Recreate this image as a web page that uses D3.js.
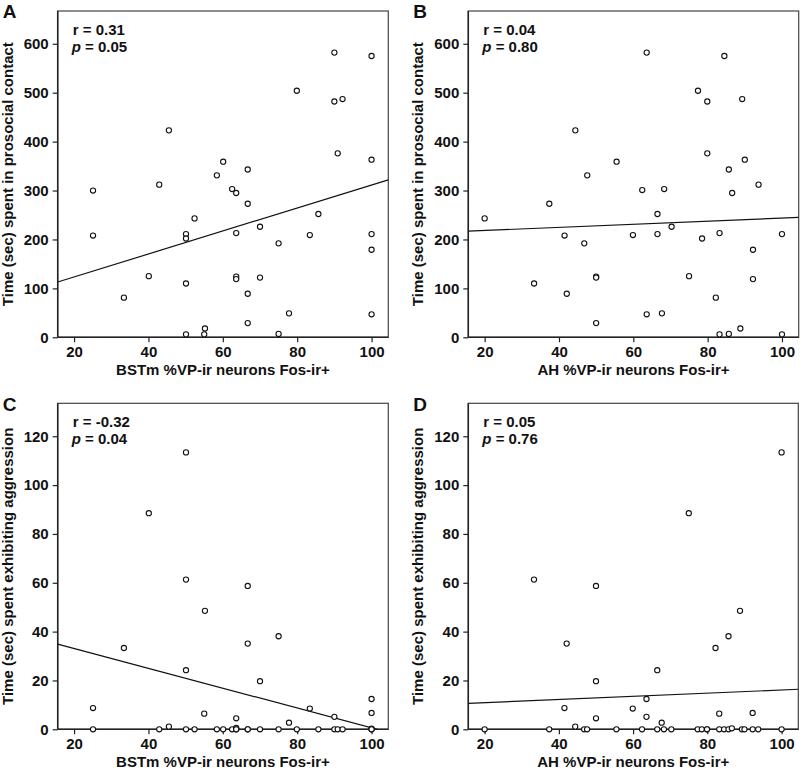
<!DOCTYPE html>
<html>
<head>
<meta charset="utf-8">
<style>
body { margin: 0; background: #fff; }
text { font-family: "Liberation Sans", Arial, sans-serif; font-weight: bold; fill: #111; }
.frame { fill: none; stroke: #444; stroke-width: 1.2px; }
.axis path { display: none; }
.axis line { stroke: #222; stroke-width: 1.2px; }
.axis text { font-size: 15px; }
.dot { fill: #fff; stroke: #111; stroke-width: 1.1px; }
.fit { fill: none; stroke: #111; stroke-width: 1.2px; }
</style>
<script src="https://cdn.jsdelivr.net/npm/d3@7"></script>
</head>
<body>
<script>

// BSTm %VP-ir neurons Fos-ir+ (panels A and C)
var bstmX = [25.1,25.1,33.4,40.1,42.9,45.5,50.1,50.1,50.1,50.1,52.4,55.2,55.0,58.4,60.1,62.5,
  63.6,63.6,63.6,63.6,66.7,66.7,66.7,66.7,70.0,70.0,75.0,75.0,77.8,79.9,83.4,85.7,90.0,90.0,
  90.9,92.2,100,100,100,100,100];
var prosocialA = [300,208,81,125,312,423,211,202,110,6,243,18,6,331,359,303,295,213,124,119,
  343,273,89,29,226,122,192,7,49,504,209,252,582,482,376,487,575,363,211,179,47];
var aggressionC = [8.7,0,33.3,88.5,0,1.1,113.4,61.3,24.2,0,0,48.5,6.4,0,0,0,4.5,0.6,0,0,
  58.7,35.1,0,0,19.7,0,38.1,0,2.7,0,8.5,0,5.1,0,0,0,12.4,6.7,0.3,0,0];

// AH %VP-ir neurons Fos-ir+ (panels B and D)
var ahX = [20,33.3,37.4,41.5,42.1,44.4,46.8,47.6,50,50,50,55.5,59.9,62.4,63.6,63.6,66.5,66.5,
  67.7,68.3,70.3,75,77.4,78.5,79.9,79.9,82.2,83.2,83.2,84.5,85.7,85.7,86.6,88.8,89.3,90,
  92.2,92.2,93.7,100,100];
var prosocialB = [243,110,273,208,89,423,192,331,124,122,29,359,209,301,582,47,252,211,49,303,
  226,125,504,202,482,376,81,213,6,575,343,7,295,18,487,363,179,119,312,211,6];
var aggressionD = [0,61.3,0,8.7,35.1,1.1,0,0,58.7,19.7,4.5,0,8.5,0,12.4,5.1,24.2,0,2.7,0,
  0,88.5,0,0,0,0,33.3,6.4,0,0,38.1,0,0.4,48.5,0,0,6.7,0,0,113.4,0];

// fit lines: [intercept, slope]
var fitA = [76.3, 2.35], fitB = [212.1, 0.315], fitC = [41.2, -0.406], fitD = [9.6, 0.065];

var xTicks = [20, 40, 60, 80, 100];
var prosocialTicks = [0, 100, 200, 300, 400, 500, 600];
var aggressionTicks = [0, 20, 40, 60, 80, 100, 120];

var letters = ["A", "B", "C", "D"];
var rLabels = ["0.31", "0.04", "-0.32", "0.05"];
var pLabels = ["0.05", "0.80", "0.04", "0.76"];
var xTitles = ["BSTm %VP-ir neurons Fos-ir+", "AH %VP-ir neurons Fos-ir+",
  "BSTm %VP-ir neurons Fos-ir+", "AH %VP-ir neurons Fos-ir+"];
var yTitles = ["Time (sec) spent in prosocial contact", "Time (sec) spent in prosocial contact",
  "Time (sec) spent exhibiting aggression", "Time (sec) spent exhibiting aggression"];

var width = 800, height = 769;

var svg = d3.select("body").append("svg")
    .attr("width", width)
    .attr("height", height);

var panels = [
  {left: 57.7,  top: 11,    w: 330.6, h: 326.3, xs: bstmX, ys: prosocialA,  fit: fitA, yMax: 667,   yt: prosocialTicks},
  {left: 468.3, top: 11,    w: 330.4, h: 326.3, xs: ahX,   ys: prosocialB,  fit: fitB, yMax: 667,   yt: prosocialTicks},
  {left: 57.7,  top: 403.3, w: 330.6, h: 326,   xs: bstmX, ys: aggressionC, fit: fitC, yMax: 133.5, yt: aggressionTicks},
  {left: 468.3, top: 403.3, w: 330,   h: 326,   xs: ahX,   ys: aggressionD, fit: fitD, yMax: 133.5, yt: aggressionTicks}
];

panels.forEach(function(p, i) {
  var g = svg.append("g").attr("transform", "translate(" + p.left + "," + p.top + ")");

  var x = d3.scaleLinear().domain([15.6, 104.5]).range([0, p.w]);
  var y = d3.scaleLinear().domain([0, p.yMax]).range([p.h, 0]);

  g.append("clipPath").attr("id", "clip" + i)
    .append("rect").attr("width", p.w).attr("height", p.h);

  g.append("g").attr("class", "axis")
    .attr("transform", "translate(0," + p.h + ")")
    .call(d3.axisBottom(x).tickValues(xTicks).tickSize(5).tickPadding(4).tickSizeOuter(0));

  g.append("g").attr("class", "axis")
    .call(d3.axisLeft(y).tickValues(p.yt).tickSize(5).tickPadding(4).tickSizeOuter(0));

  g.append("rect").attr("class", "frame")
    .attr("width", p.w).attr("height", p.h);

  // left + bottom axis lines a bit darker
  g.append("line").attr("x1", 0).attr("x2", 0).attr("y1", 0).attr("y2", p.h)
    .attr("stroke", "#222").attr("stroke-width", 1.5);
  g.append("line").attr("x1", 0).attr("x2", p.w).attr("y1", p.h).attr("y2", p.h)
    .attr("stroke", "#222").attr("stroke-width", 1.5);

  var xd = x.domain();
  g.append("path").attr("class", "fit")
    .attr("clip-path", "url(#clip" + i + ")")
    .attr("d", d3.line()
      .x(function(d) { return x(d); })
      .y(function(d) { return y(p.fit[0] + p.fit[1] * d); })(xd));

  g.append("g").selectAll("circle")
    .data(p.xs.map(function(v, k) { return [v, p.ys[k]]; }))
    .enter().append("circle")
    .attr("class", "dot")
    .attr("cx", function(d) { return x(d[0]); })
    .attr("cy", function(d) { return y(d[1]); })
    .attr("r", 2.6);

  var st = g.append("text").attr("x", 15).attr("y", 24).style("font-size", "15px");
  st.text("r = " + rLabels[i]);
  var pt = g.append("text").attr("x", 14).attr("y", 41).style("font-size", "15px");
  pt.append("tspan").style("font-style", "italic").text("p");
  pt.append("tspan").text(" = " + pLabels[i]);

  g.append("text")
    .attr("x", p.w / 2).attr("y", p.h + 37.5)
    .attr("text-anchor", "middle")
    .style("font-size", "15px")
    .text(xTitles[i]);

  g.append("text")
    .attr("transform", "translate(-45," + (p.h / 2) + ") rotate(-90)")
    .attr("text-anchor", "middle")
    .style("font-size", "15px")
    .text(yTitles[i]);

  g.append("text")
    .attr("x", -55).attr("y", 7.3)
    .style("font-size", "19px")
    .text(letters[i]);
});

</script>
</body>
</html>
